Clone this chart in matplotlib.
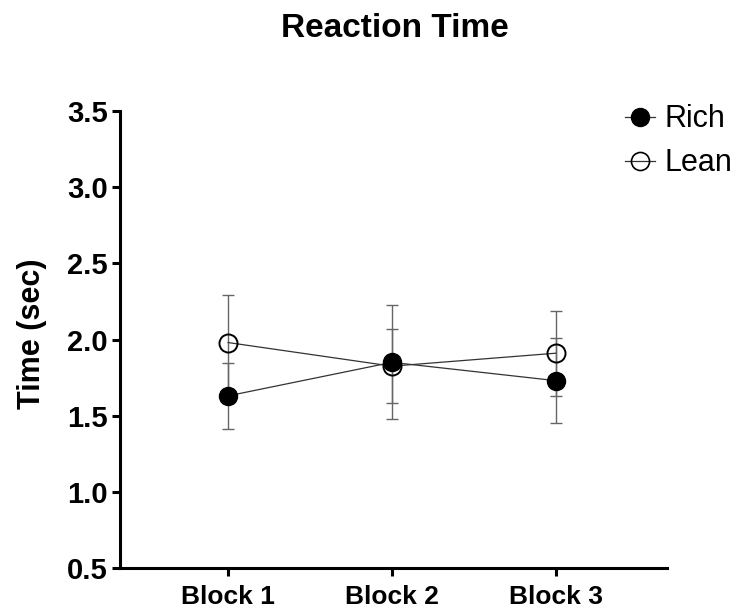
import matplotlib
matplotlib.use('Agg')
import matplotlib.pyplot as plt
import numpy as np
from matplotlib.lines import Line2D

plt.rcParams['font.family'] = ['Liberation Sans', 'DejaVu Sans']

# Mean reaction time and SEM per block
blocks = ['Block 1', 'Block 2', 'Block 3']
rich_mean = [1.63, 1.85, 1.73]
rich_sem = [0.215, 0.375, 0.28]
lean_mean = [1.98, 1.825, 1.91]
lean_sem = [0.31, 0.245, 0.28]

fig = plt.figure(figsize=(7.4, 6.11), dpi=100)
ax = fig.add_axes([0.1622, 0.0704, 0.7392, 0.7479])

x = np.arange(len(blocks))

# error bars first, grey
for mean, sem in [(lean_mean, lean_sem), (rich_mean, rich_sem)]:
    ax.errorbar(x, mean, yerr=sem, fmt='none', ecolor='#666666',
                elinewidth=1.0, capsize=4.5, capthick=1.0, zorder=2)

# connecting lines and markers
ax.plot(x, lean_mean, color='#333333', lw=0.9, zorder=3)
ax.plot(x, rich_mean, color='#333333', lw=0.9, zorder=3)
ax.plot(x, lean_mean, 'o', ms=13, mfc='none', mec='black', mew=1.4, zorder=4)
ax.plot(x, rich_mean, 'o', ms=13, mfc='black', mec='black', zorder=5)

ax.set_xlim(-0.66, 2.68)
ax.set_ylim(0.5, 3.5)
ax.set_yticks(np.arange(0.5, 3.51, 0.5))
ax.set_yticklabels([f'{v:.1f}' for v in np.arange(0.5, 3.51, 0.5)])
ax.set_xticks(x)
ax.set_xticklabels(blocks)

for side in ['top', 'right']:
    ax.spines[side].set_visible(False)
for side in ['left', 'bottom']:
    ax.spines[side].set_linewidth(2.2)
ax.tick_params(axis='both', width=2.2, length=6, pad=3)
ax.tick_params(axis='y', labelsize=21)
ax.tick_params(axis='x', labelsize=19, pad=6)
for lbl in ax.get_xticklabels() + ax.get_yticklabels():
    lbl.set_fontweight('bold')

ax.set_ylabel('Time (sec)', fontsize=22, fontweight='bold', labelpad=14)
ax.yaxis.label.set_y(0.513)
fig.text(0.533, 0.953, 'Reaction Time', ha='center', va='center',
         fontsize=24, fontweight='bold')

handles = [
    Line2D([], [], color='#333333', lw=0.9, marker='o', ms=13,
           mfc='black', mec='black'),
    Line2D([], [], color='#333333', lw=0.9, marker='o', ms=13,
           mfc='none', mec='black', mew=1.2),
]
ax.legend(handles, ['Rich', 'Lean'], loc='upper left',
          bbox_to_anchor=(0.828, 0.849), bbox_transform=fig.transFigure,
          frameon=False, fontsize=22, handlelength=1.0, handletextpad=0.3,
          labelspacing=0.45, borderaxespad=0)

fig.savefig('out.png', dpi=100)
